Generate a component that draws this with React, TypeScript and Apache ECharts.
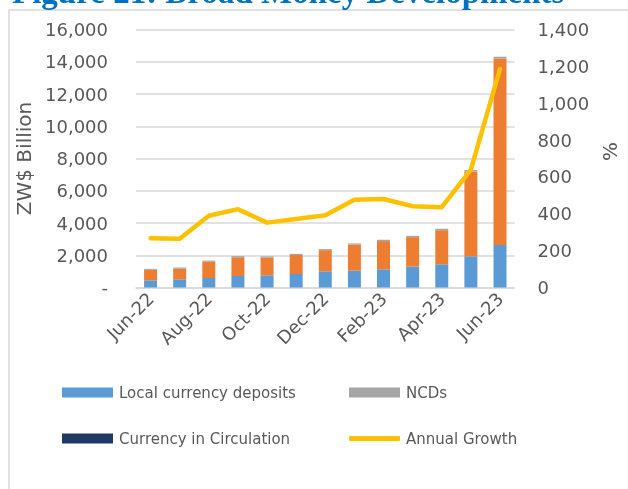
import React, { useEffect, useRef } from "react";
import * as echarts from "echarts";

const months = ["Jun-22", "Jul-22", "Aug-22", "Sep-22", "Oct-22", "Nov-22", "Dec-22", "Jan-23", "Feb-23", "Mar-23", "Apr-23", "May-23", "Jun-23"];
const localCurrencyDeposits = [447, 509, 590, 714, 758, 838, 1006, 1043, 1130, 1293, 1440, 1937, 2640];
const foreignCurrencyDeposits = [650, 660, 1010, 1160, 1100, 1180, 1310, 1620, 1750, 1830, 2110, 5260, 11560];
const ncds = [50, 60, 60, 60, 60, 60, 60, 60, 70, 70, 80, 80, 100];
const currencyInCirculation = [5, 5, 5, 5, 5, 5, 5, 5, 5, 5, 5, 5, 5];
const annualGrowth = [267, 264, 389, 425, 352, 372, 392, 476, 480, 441, 436, 639, 1186];

const FONT = "'DejaVu Sans', sans-serif";
const TXT = "#595959";

export default function App() {
  const ref = useRef<HTMLDivElement>(null);
  useEffect(() => {
    if (!ref.current) return;
    const chart = echarts.init(ref.current, null, { renderer: "svg" });
    const legendBase = {
      padding: 0,
      itemWidth: 51,
      itemHeight: 10,
      itemGap: 0,
      icon: "rect",
      textStyle: { fontFamily: FONT, fontSize: 15, color: TXT, padding: [0, 0, 0, 1] },
      selectedMode: false,
    };
    chart.setOption({
      animation: false,
      textStyle: { fontFamily: FONT },
      graphic: [
        {
          type: "rect",
          shape: { x: 9, y: 10, width: 700, height: 600 },
          style: { fill: "none", stroke: "#D9D9D9", lineWidth: 1.5 },
          silent: true,
        },
        {
          type: "text",
          x: 12,
          y: -8,
          style: {
            text: "Figure 21: Broad Money Developments",
            fontFamily: "'Liberation Serif', 'Times New Roman', serif",
            fontWeight: "bold",
            fontSize: 33,
            fill: "#0070C0",
            verticalAlign: "middle",
          },
        },
      ],
      legend: [
        { ...legendBase, left: 62, top: 385, data: ["Local currency deposits"] },
        { ...legendBase, left: 349, top: 385, data: ["NCDs"] },
        { ...legendBase, left: 62, top: 431, data: ["Currency in Circulation"] },
        { ...legendBase, left: 349, top: 431, itemHeight: 5, icon: "roundRect", data: ["Annual Growth"] },
      ],
      grid: { left: 136, right: 83, top: 29.5, bottom: 201.5, containLabel: false },
      xAxis: {
        type: "category",
        data: months,
        axisLine: { lineStyle: { color: "#D9D9D9", width: 1.5 } },
        axisTick: { interval: 1, length: 6, lineStyle: { color: "#D9D9D9", width: 1.5 } },
        axisLabel: { interval: 1, rotate: 45, fontSize: 18, color: TXT, margin: 8, fontFamily: FONT },
      },
      yAxis: [
        {
          type: "value",
          min: 0,
          max: 16000,
          interval: 2000,
          name: "ZW$ Billion",
          nameLocation: "middle",
          nameGap: 90,
          nameTextStyle: { fontSize: 20, color: TXT, fontFamily: FONT },
          axisLine: { show: false },
          axisTick: { show: false },
          axisLabel: {
            fontSize: 18,
            color: TXT,
            margin: 28,
            fontFamily: FONT,
            formatter: (v: number) => (v === 0 ? "-" : v.toLocaleString("en-US")),
          },
          splitLine: { lineStyle: { color: "#D9D9D9", width: 1.5 } },
        },
        {
          type: "value",
          min: 0,
          max: 1400,
          interval: 200,
          name: "%",
          nameLocation: "middle",
          nameGap: 62,
          nameTextStyle: { fontSize: 20, color: TXT, fontFamily: FONT, padding: [0, 0, 0, 14] },
          axisLine: { show: false },
          axisTick: { show: false },
          axisLabel: {
            fontSize: 18,
            color: TXT,
            margin: 23,
            fontFamily: FONT,
            formatter: (v: number) => v.toLocaleString("en-US"),
          },
          splitLine: { show: false },
        },
      ],
      series: [
        { name: "Local currency deposits", type: "bar", stack: "m", barWidth: 13, data: localCurrencyDeposits, itemStyle: { color: "#5B9BD5" } },
        { name: "Foreign currency deposits", type: "bar", stack: "m", barWidth: 13, data: foreignCurrencyDeposits, itemStyle: { color: "#ED7D31" } },
        { name: "NCDs", type: "bar", stack: "m", barWidth: 13, data: ncds, itemStyle: { color: "#A5A5A5" } },
        { name: "Currency in Circulation", type: "bar", stack: "m", barWidth: 13, data: currencyInCirculation, itemStyle: { color: "#1F3864" } },
        {
          name: "Annual Growth",
          type: "line",
          yAxisIndex: 1,
          data: annualGrowth,
          symbol: "none",
          itemStyle: { color: "#FFC000" },
          lineStyle: { color: "#FFC000", width: 4.5, cap: "round", join: "round" },
        },
      ],
    });
    return () => chart.dispose();
  }, []);
  return <div ref={ref} style={{ position: "fixed", left: 0, top: 0, width: 628, height: 489 }} />;
}
